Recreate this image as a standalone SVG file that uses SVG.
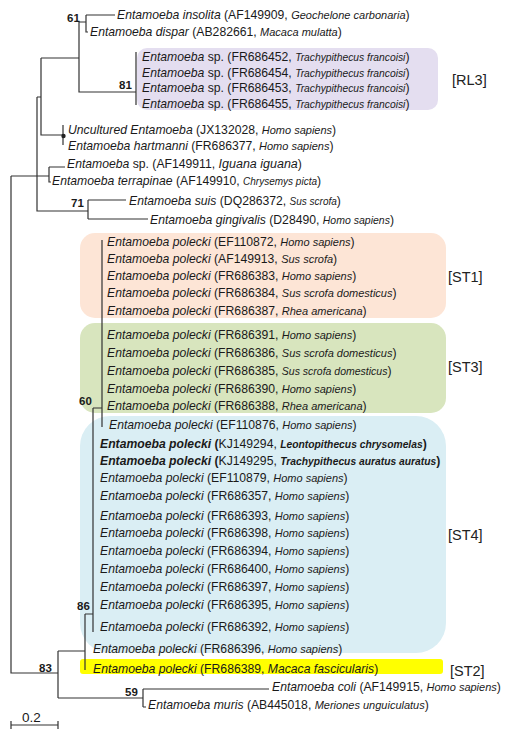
<svg xmlns="http://www.w3.org/2000/svg" width="508" height="740" viewBox="0 0 508 740">
<style>
.t{font-family:"Liberation Sans",Arial,sans-serif;font-size:12.2px;fill:#1a1a1a}
.i{font-style:italic}
.h{font-style:italic;font-size:11px}
.b{font-weight:bold}
.n{font-weight:normal}
.bs{font-family:"Liberation Sans",Arial,sans-serif;font-size:11.5px;font-weight:bold;fill:#1a1a1a}
.lab{font-family:"Liberation Sans",Arial,sans-serif;font-size:14.5px;fill:#222}
.ln{fill:none;stroke:#333;stroke-width:1.2}
</style>
<rect width="508" height="740" fill="#fff"/>
<g id="boxes">
<rect x="137" y="48" width="301" height="62" rx="10" fill="#e4def0"/>
<rect x="80" y="233" width="366" height="85" rx="15" fill="#fde5d6"/>
<rect x="80" y="323" width="366" height="90" rx="15" fill="#d8e5be"/>
<rect x="80" y="416" width="366" height="237" rx="30" fill="#daeef4"/>
<rect x="80" y="659" width="363" height="15" rx="3" fill="#ffff00"/>
</g>
<g id="connectors" class="ln">
<path d="M86,15H115M86,15V32H88M79,22H86M79,22V92H136M136,52V105"/>
<path d="M41,58H79M41,58V135H63M63,125V145M37,97H41M37,97V211H88"/>
<path d="M11,176H49M49,167V182H51M49,167H65"/>
<path d="M88,200V219M88,200H126M88,219H148"/>
<path d="M11,176V673H58M58,651V698M58,651H85M85,614V670M85,614H93M93,408V632M93,408H102M102,240V427"/>
<path d="M58,698H143M143,689V707M143,689H269M143,707H146"/>
<path d="M11,725H58M11,721V729M58,721V729"/>
</g>
<circle cx="63.5" cy="136" r="2.2" fill="#222"/>
<g id="bootstrap">
<text class="bs" x="67" y="22">61</text>
<text class="bs" x="119" y="89">81</text>
<text class="bs" x="71" y="207">71</text>
<text class="bs" x="79" y="405">60</text>
<text class="bs" x="77" y="610">86</text>
<text class="bs" x="39" y="672">83</text>
<text class="bs" x="125" y="696">59</text>
</g>
<g id="labels">
<text class="lab" x="452" y="85">[RL3]</text>
<text class="lab" x="448" y="282">[ST1]</text>
<text class="lab" x="448" y="372">[ST3]</text>
<text class="lab" x="448" y="540">[ST4]</text>
<text class="lab" x="450" y="676">[ST2]</text>
<text class="t" x="22" y="722" style="font-size:13.5px">0.2</text>
</g>
<g id="taxa">
<text class="t" x="117" y="19"><tspan class="i">Entamoeba insolita</tspan> (AF149909, <tspan class="h">Geochelone carbonaria</tspan>)</text>
<text class="t" x="90" y="36"><tspan class="i">Entamoeba dispar</tspan> (AB282661, <tspan class="h">Macaca mulatta</tspan>)</text>
<text class="t" x="142" y="61"><tspan class="i">Entamoeba</tspan> sp. (FR686452, <tspan class="h" style="font-size:10.3px">Trachypithecus francoisi</tspan>)</text>
<text class="t" x="142" y="76.5"><tspan class="i">Entamoeba</tspan> sp. (FR686454, <tspan class="h" style="font-size:10.3px">Trachypithecus francoisi</tspan>)</text>
<text class="t" x="142" y="92"><tspan class="i">Entamoeba</tspan> sp. (FR686453, <tspan class="h" style="font-size:10.3px">Trachypithecus francoisi</tspan>)</text>
<text class="t" x="142" y="107.5"><tspan class="i">Entamoeba</tspan> sp. (FR686455, <tspan class="h" style="font-size:10.3px">Trachypithecus francoisi</tspan>)</text>
<text class="t" x="68" y="134"><tspan class="i">Uncultured Entamoeba</tspan> (JX132028, <tspan class="h">Homo sapiens</tspan>)</text>
<text class="t" x="68" y="150"><tspan class="i">Entamoeba hartmanni</tspan> (FR686377, <tspan class="h">Homo sapiens</tspan>)</text>
<text class="t" x="67" y="168"><tspan class="i">Entamoeba</tspan> sp. (AF149911, <tspan class="h" style="font-size:12.5px">Iguana iguana</tspan>)</text>
<text class="t" x="52" y="185"><tspan class="i">Entamoeba terrapinae</tspan> (AF149910, <tspan class="h" style="font-size:10px">Chrysemys picta</tspan>)</text>
<text class="t" x="129" y="205"><tspan class="i">Entamoeba suis</tspan> (DQ286372, <tspan class="h" style="font-size:10px">Sus scrofa</tspan>)</text>
<text class="t" x="150" y="223.5"><tspan class="i">Entamoeba gingivalis</tspan> (D28490, <tspan class="h" style="font-size:10.5px">Homo sapiens</tspan>)</text>
<text class="t" x="107" y="246"><tspan class="i">Entamoeba polecki</tspan> (EF110872, <tspan class="h">Homo sapiens</tspan>)</text>
<text class="t" x="107" y="262.5"><tspan class="i">Entamoeba polecki</tspan> (AF149913, <tspan class="h">Sus scrofa</tspan>)</text>
<text class="t" x="107" y="280"><tspan class="i">Entamoeba polecki</tspan> (FR686383, <tspan class="h">Homo sapiens</tspan>)</text>
<text class="t" x="107" y="297"><tspan class="i">Entamoeba polecki</tspan> (FR686384, <tspan class="h">Sus scrofa domesticus</tspan>)</text>
<text class="t" x="107" y="315"><tspan class="i">Entamoeba polecki</tspan> (FR686387, <tspan class="h">Rhea americana</tspan>)</text>
<text class="t" x="107" y="339"><tspan class="i">Entamoeba polecki</tspan> (FR686391, <tspan class="h">Homo sapiens</tspan>)</text>
<text class="t" x="107" y="357"><tspan class="i">Entamoeba polecki</tspan> (FR686386, <tspan class="h">Sus scrofa domesticus</tspan>)</text>
<text class="t" x="107" y="375"><tspan class="i">Entamoeba polecki</tspan> (FR686385, <tspan class="h" style="font-size:10.5px">Sus scrofa domesticus</tspan>)</text>
<text class="t" x="107" y="393"><tspan class="i">Entamoeba polecki</tspan> (FR686390, <tspan class="h">Homo sapiens</tspan>)</text>
<text class="t" x="107" y="410"><tspan class="i">Entamoeba polecki</tspan> (FR686388, <tspan class="h">Rhea americana</tspan>)</text>
<text class="t" x="109" y="429"><tspan class="i">Entamoeba polecki</tspan> (EF110876, <tspan class="h">Homo sapiens</tspan>)</text>
<text class="t b" x="100" y="448"><tspan class="i">Entamoeba polecki</tspan> (<tspan class="n">KJ149294, </tspan><tspan class="h" style="font-size:10.3px">Leontopithecus chrysomelas</tspan>)</text>
<text class="t b" x="100" y="465"><tspan class="i">Entamoeba  polecki</tspan> (<tspan class="n">KJ149295, </tspan><tspan class="h" style="font-size:10.3px">Trachypithecus auratus auratus</tspan>)</text>
<text class="t" x="100" y="482"><tspan class="i">Entamoeba polecki</tspan> (EF110879, <tspan class="h">Homo sapiens</tspan>)</text>
<text class="t" x="100" y="500"><tspan class="i">Entamoeba polecki</tspan> (FR686357, <tspan class="h">Homo sapiens</tspan>)</text>
<text class="t" x="100" y="520"><tspan class="i">Entamoeba polecki</tspan> (FR686393, <tspan class="h">Homo sapiens</tspan>)</text>
<text class="t" x="100" y="537"><tspan class="i">Entamoeba polecki</tspan> (FR686398, <tspan class="h">Homo sapiens</tspan>)</text>
<text class="t" x="100" y="555"><tspan class="i">Entamoeba polecki</tspan> (FR686394, <tspan class="h">Homo sapiens</tspan>)</text>
<text class="t" x="100" y="573"><tspan class="i">Entamoeba polecki</tspan> (FR686400, <tspan class="h">Homo sapiens</tspan>)</text>
<text class="t" x="100" y="591"><tspan class="i">Entamoeba polecki</tspan> (FR686397, <tspan class="h">Homo sapiens</tspan>)</text>
<text class="t" x="100" y="609"><tspan class="i">Entamoeba polecki</tspan> (FR686395, <tspan class="h">Homo sapiens</tspan>)</text>
<text class="t" x="100" y="631"><tspan class="i">Entamoeba polecki</tspan> (FR686392, <tspan class="h">Homo sapiens</tspan>)</text>
<text class="t" x="93" y="653"><tspan class="i">Entamoeba polecki</tspan> (FR686396, <tspan class="h">Homo sapiens</tspan>)</text>
<text class="t" x="93" y="673"><tspan class="i">Entamoeba polecki</tspan> (FR686389, <tspan class="i">Macaca fascicularis</tspan>)</text>
<text class="t" x="272" y="691"><tspan class="i">Entamoeba coli</tspan> (AF149915, <tspan class="h">Homo sapiens</tspan>)</text>
<text class="t" x="148" y="709"><tspan class="i">Entamoeba muris</tspan> (AB445018, <tspan class="h">Meriones unguiculatus</tspan>)</text>
</g>
</svg>
